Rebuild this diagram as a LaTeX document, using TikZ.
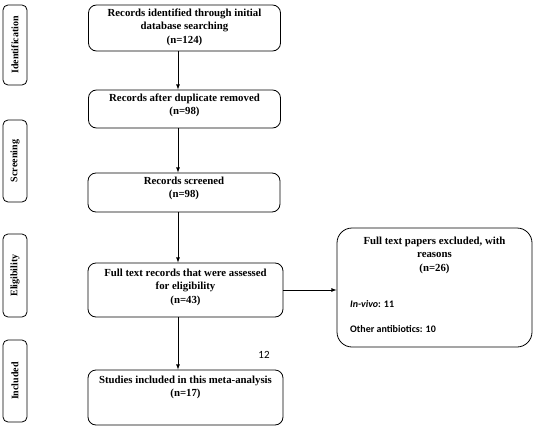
\documentclass[tikz,border=0pt]{standalone}
\usepackage{fontspec}
\setmainfont{Liberation Serif}
\newfontfamily\carlito{Carlito}
\usepackage{tikz}

\tikzset{
  box/.style = {draw, line width=.8pt, rounded corners=8pt, minimum width=192pt},
  boxtext/.style = {anchor=north, inner sep=0pt, align=center, font=\bfseries\fontsize{10.8}{13.5}\selectfont},
  side/.style = {draw, line width=.8pt, rounded corners=5pt, rotate=90, minimum height=24pt, font=\bfseries\fontsize{10}{12}\selectfont},
  flow/.style = {-latex, line width=.8pt}
}

\begin{document}
\begin{tikzpicture}[x=1pt, y=-1pt]
  \useasboundingbox (0,0) rectangle (538,428);
  % stage labels on the left
  \node[side, minimum width=80pt] at (15,45) (id) {Identification};
  \node[side, minimum width=82pt] at (15,161) (scr) {Screening};
  \node[side, minimum width=83pt] at (15,275.5) (eli) {Eligibility};
  \node[side, minimum width=82pt] at (15,381) (inc) {Included};

  % main boxes
  \node[box, minimum height=46pt] at (184.5,28) (rec) {};
  \node[boxtext] at ([yshift=-4pt]rec.north) (rect) {Records identified through initial\\database searching\\(n=124)};
  \node[box, minimum height=38pt] at (184.5,109) (dup) {};
  \node[boxtext] at ([yshift=-4pt]dup.north) (dupt) {Records after duplicate removed\\(n=98)};
  \node[box, minimum height=39pt] at (184,192.5) (scrd) {};
  \node[boxtext] at ([yshift=-4pt]scrd.north) (scrdt) {Records screened\\(n=98)};
  \node[box, minimum width=195pt, minimum height=54pt] at (185.5,290) (full) {};
  \node[boxtext] at ([yshift=-6pt]full.north) (fullt) {Full text records that were assessed\\for eligibility\\(n=43)};
  \node[box, minimum width=195pt, minimum height=55pt] at (185.5,397.5) (incl) {};
  \node[boxtext] at ([yshift=-6pt]incl.north) (inclt) {Studies included in this meta-analysis\\(n=17)};

  % excluded box
  \node[box, rounded corners=15pt, minimum width=195pt, minimum height=119pt] at (434.5,287.5) (excl) {};
  \node[boxtext] at ([yshift=-9pt]excl.north) (exclt) {Full text papers excluded, with\\reasons\\(n=26)};
  \node[anchor=base west, inner sep=0pt, font=\carlito\bfseries\fontsize{10}{12}\selectfont] at (350,307) (vivo) {\textit{In-vivo}: 11};
  \node[anchor=base west, inner sep=0pt, font=\carlito\bfseries\fontsize{10}{12}\selectfont] at (350,332) (anti) {Other antibiotics: 10};

  \node[font=\carlito\fontsize{11}{13}\selectfont] at (264,355) (num) {12};

  % arrows
  \draw[flow] ([xshift=-6.5pt]rec.south) -- ([xshift=-6.5pt]dup.north);
  \draw[flow] ([xshift=-6.5pt]dup.south) -- ([xshift=-6pt]scrd.north);
  \draw[flow] ([xshift=-6pt]scrd.south) -- ([xshift=-7.5pt]full.north);
  \draw[flow] ([xshift=-7.5pt]full.south) -- ([xshift=-7.5pt]incl.north);
  \draw[flow] (full.east) -- (full.east -| excl.west);
\end{tikzpicture}
\end{document}
